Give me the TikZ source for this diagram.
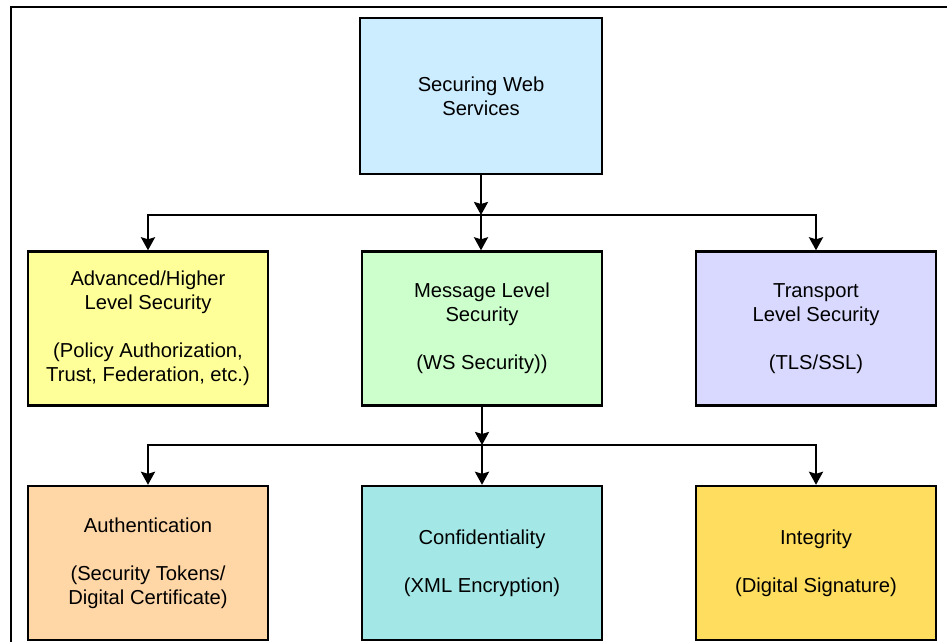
\documentclass[tikz,border=0pt]{standalone}
\usepackage{fontspec}
\setmainfont{Liberation Sans}
\usepackage{xcolor}
\usetikzlibrary{arrows.meta,positioning,calc}

\definecolor{topblue}{HTML}{CCECFF}
\definecolor{advyellow}{HTML}{FFFF99}
\definecolor{msggreen}{HTML}{CCFFCC}
\definecolor{translav}{HTML}{D9D9FF}
\definecolor{authpeach}{HTML}{FFD6A6}
\definecolor{confcyan}{HTML}{A3E8E6}
\definecolor{integold}{HTML}{FFDD5E}

\begin{document}
\begin{tikzpicture}[
    x=1pt, y=-1pt,
    secbox/.style={draw, line width=2.4pt, minimum width=240pt, minimum height=154pt, inner sep=0pt,
                   align=center, font=\fontsize{20.2}{24}\selectfont},
    conn/.style={line width=2.4pt, -{Stealth[length=13pt,width=14pt,inset=2pt]}},
    frameline/.style={line width=1.6pt}
]
\useasboundingbox (0,0) rectangle (947,642);

% outer frame (cut off at right and bottom)
\draw[frameline] (11,642) -- (11,7) -- (947,7);

% top level
\node[secbox, fill=topblue, minimum width=242pt, minimum height=156pt] (web) at (481,96) {Securing Web\\Services};

% second row
\node[secbox, fill=advyellow] (adv) at (148,328.5) {Advanced/Higher\\Level Security\\[24pt](Policy Authorization,\\Trust, Federation, etc.)};
\node[secbox, fill=msggreen] (msg) at (482,328.5) {Message Level\\Security\\[24pt](WS Security))};
\node[secbox, fill=translav] (trans) at (816,328.5) {Transport\\Level Security\\[24pt](TLS/SSL)};

% third row
\node[secbox, fill=authpeach] (auth) at (148,563) {Authentication\\[24pt](Security Tokens/\\Digital Certificate)};
\node[secbox, fill=confcyan] (conf) at (482,563) {Confidentiality\\[24pt](XML Encryption)};
\node[secbox, fill=integold] (integ) at (816,563) {Integrity\\[24pt](Digital Signature)};

% connectors
\coordinate (split1) at (481,215);
\coordinate (split2) at (482,445);
\draw[conn] (web.south) -- (split1);
\draw[conn] (split1) -| (adv.north);
\draw[conn] (split1) -- (split1 |- msg.north);
\draw[conn] (split1) -| (trans.north);
\draw[conn] (msg.south) -- (split2);
\draw[conn] (split2) -| (auth.north);
\draw[conn] (split2) -- (conf.north);
\draw[conn] (split2) -| (integ.north);

\end{tikzpicture}
\end{document}
